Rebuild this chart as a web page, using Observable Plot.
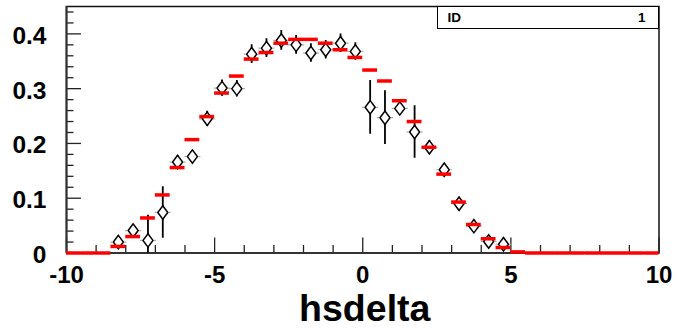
<!DOCTYPE html>
<html>
<head>
<meta charset="utf-8">
<script src="https://cdn.jsdelivr.net/npm/d3@7"></script>
<script src="https://cdn.jsdelivr.net/npm/@observablehq/plot@0.6"></script>
<style>
  html, body { margin: 0; padding: 0; background: #fff; }
  #wrap { position: relative; width: 678px; height: 332px; font-family: "Liberation Sans", Arial, Helvetica, sans-serif; }
  #stats { position: absolute; left: 436.5px; top: 5.5px; width: 220px; height: 21px; border: 1.5px solid #000; background: #fff;
           font-weight: bold; font-size: 13.5px; line-height: 21px; }
  #stats .k { position: absolute; left: 10px; }
  #stats .v { position: absolute; right: 12px; }
</style>
</head>
<body>
<div id="wrap"></div>
<script>
// ---- data ----
const xTitle = "hsdelta";
const statName = "ID";
const statValue = "1";

// histogram bins (width 0.5 from -10 to 10): lower edges and contents
const binLow = [-10, -9.5, -9, -8.5, -8, -7.5, -7, -6.5, -6, -5.5, -5, -4.5, -4, -3.5, -3, -2.5, -2, -1.5, -1, -0.5,
                0, 0.5, 1, 1.5, 2, 2.5, 3, 3.5, 4, 4.5, 5, 5.5, 6, 6.5, 7, 7.5, 8, 8.5, 9, 9.5];
const histValues = [0, 0, 0, 0.012, 0.030, 0.064, 0.106, 0.156, 0.207, 0.249, 0.292, 0.323, 0.354, 0.366, 0.383, 0.390, 0.390, 0.383, 0.371, 0.357,
                    0.334, 0.314, 0.278, 0.240, 0.193, 0.144, 0.093, 0.052, 0.026, 0.010, 0.002, 0, 0, 0, 0, 0, 0, 0, 0, 0];
const binWidth = 0.5;

// data points (diamonds) with errors
const pointX = [-8.25, -7.75, -7.25, -6.75, -6.25, -5.75, -5.25, -4.75, -4.25, -3.75, -3.25, -2.75, -2.25, -1.75, -1.25, -0.75, -0.25,
                0.25, 0.75, 1.25, 1.75, 2.25, 2.75, 3.25, 3.75, 4.25, 4.75];
const pointY = [0.020, 0.041, 0.023, 0.074, 0.166, 0.176, 0.245, 0.301, 0.300, 0.363, 0.374, 0.388, 0.380, 0.365, 0.371, 0.383, 0.368,
                0.266, 0.247, 0.264, 0.221, 0.193, 0.152, 0.090, 0.049, 0.021, 0.016];
const pointErr = [0.006, 0.008, 0.046, 0.047, 0.012, 0.010, 0.014, 0.015, 0.015, 0.017, 0.017, 0.018, 0.017, 0.017, 0.017, 0.017, 0.016,
                  0.049, 0.049, 0.012, 0.048, 0.012, 0.010, 0.010, 0.008, 0.006, 0.006];

// axes
const xMajorTicks = [-10, -5, 0, 5, 10];
const xMinorTicks = [-9, -8, -7, -6, -4, -3, -2, -1, 1, 2, 3, 4, 6, 7, 8, 9];
const yMajorTicks = [0, 0.1, 0.2, 0.3, 0.4];
const yMinorTicks = [0.02, 0.04, 0.06, 0.08, 0.12, 0.14, 0.16, 0.18, 0.22, 0.24, 0.26, 0.28, 0.32, 0.34, 0.36, 0.38, 0.42, 0.44];
const xDomain = [-10, 10];
const yDomain = [0, 0.45];

// ---- build ----
const hist = binLow.map((lo, i) => ({lo, hi: lo + binWidth, v: histValues[i]}));
const points = pointX.map((x, i) => ({x, y: pointY[i], e: pointErr[i]}));

const W = 678, H = 332;
const mL = 66, mR = 19.5, mT = 6, mB = 79.5;
const fw = W - mL - mR, fh = H - mT - mB;

const diamond = {
  draw(ctx) {
    ctx.moveTo(0, -6.7); ctx.lineTo(5, 0); ctx.lineTo(0, 6.7); ctx.lineTo(-5, 0); ctx.closePath();
  }
};
const stubs = {
  draw(ctx) {
    ctx.moveTo(-8, 0); ctx.lineTo(-6, 0);
    ctx.moveTo(6, 0); ctx.lineTo(8, 0);
  }
};

const font = "Liberation Sans, Arial, Helvetica, sans-serif";

const chart = Plot.plot({
  width: W, height: H,
  marginLeft: mL, marginRight: mR, marginTop: mT, marginBottom: mB,
  x: {domain: xDomain},
  y: {domain: yDomain},
  style: {fontFamily: font, background: "#fff"},
  marks: [
    Plot.frame({stroke: "#111", strokeWidth: 1.5}),
    // y ticks (inside)
    Plot.ruleY(yMinorTicks, {y: d => d, insetRight: fw - 7.5, stroke: "#222", strokeWidth: 1.3}),
    Plot.ruleY(yMajorTicks, {y: d => d, insetRight: fw - 15, stroke: "#222", strokeWidth: 1.3}),
    // x ticks (inside)
    Plot.ruleX(xMinorTicks, {x: d => d, insetTop: fh - 7.5, stroke: "#222", strokeWidth: 1.3}),
    Plot.ruleX(xMajorTicks, {x: d => d, insetTop: fh - 15, stroke: "#222", strokeWidth: 1.3}),
    // axis lines
    Plot.ruleY([yDomain[0]], {stroke: "#333", strokeWidth: 2}),
    Plot.ruleX([xDomain[0]], {stroke: "#333", strokeWidth: 2}),
    // tick labels
    Plot.axisY(yMajorTicks, {tickSize: 0, tickPadding: 20, fontSize: 24.5, fontWeight: "bold", dy: 2,
      tickFormat: d => d === 0 ? "0" : d.toFixed(1), label: null}),
    Plot.axisX(xMajorTicks, {tickSize: 0, tickPadding: 12.5, fontSize: 24, fontWeight: "bold",
      tickFormat: d => String(d), label: null}),
    // x title
    Plot.text([xTitle], {frameAnchor: "bottom", lineAnchor: "top", dy: 41, dx: 2, fontSize: 37.5, fontWeight: "bold", fill: "#000"}),
    // error bars
    Plot.ruleX(points, {x: "x", y1: d => d.y - d.e, y2: d => d.y + d.e, stroke: "#000", strokeWidth: 1.8, clip: true}),
    // horizontal stubs
    Plot.dot(points, {x: "x", y: "y", symbol: stubs, stroke: "#aaa", strokeWidth: 1.2, fill: "none"}),
    // diamonds
    Plot.dot(points, {x: "x", y: "y", symbol: diamond, stroke: "#000", strokeWidth: 1.5, fill: "#fff"}),
    // histogram contents (red bars)
    Plot.ruleY(hist, {x1: "lo", x2: "hi", y: "v", stroke: "#ff0000", strokeWidth: 3.5})
  ]
});

const wrap = document.getElementById("wrap");
wrap.appendChild(chart);
const box = document.createElement("div");
box.id = "stats";
box.innerHTML = `<span class="k">${statName}</span><span class="v">${statValue}</span>`;
wrap.appendChild(box);
</script>
</body>
</html>
